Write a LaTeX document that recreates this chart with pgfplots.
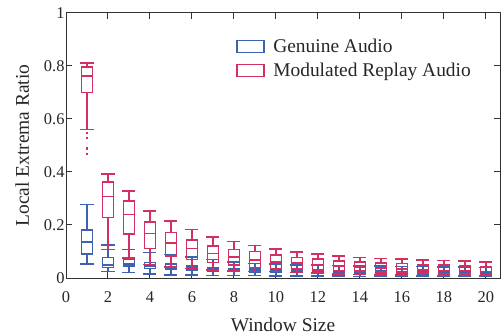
\documentclass[border=0pt]{standalone}
\usepackage{fontspec}
\setmainfont{Liberation Serif}
\usepackage{pgfplots}
\pgfplotsset{compat=1.18}
\usepgfplotslibrary{statistics}
\definecolor{bluec}{RGB}{62,98,178}
\definecolor{redc}{RGB}{210,48,96}
\definecolor{axc}{RGB}{50,50,50}
% #1 colour, #2 position, #3 lower whisker, #4 lower quartile, #5 median, #6 upper quartile, #7 upper whisker
\newcommand{\bx}[7]{\addplot[#1, line width=1.6bp, forget plot, boxplot/draw direction=y, boxplot prepared={draw position=#2, lower whisker=#3, lower quartile=#4, median=#5, upper quartile=#6, upper whisker=#7, box extend=0.52, whisker extend=0.62}] coordinates {};}
\begin{document}
\begin{tikzpicture}
\path[use as bounding box] (0,0) rectangle (501bp,335bp);
\begin{axis}[
  at={(66bp,57bp)}, anchor=south west,
  scale only axis, width=434bp, height=265bp,
  xmin=0, xmax=20.67, ymin=0, ymax=1,
  xtick={0,2,...,20}, ytick={0,0.2,0.4,0.6,0.8,1},
  yticklabels={0,0.2,0.4,0.6,0.8,1},
  tick align=inside, major tick length=6bp,
  axis line style={axc, line width=1bp},
  every tick/.style={axc, line width=1bp},
  /pgf/number format/assume math mode=true,
  ticklabel style={font=\fontsize{16.5}{19}\selectfont, text=black!85},
  xticklabel style={yshift=-10bp},
  yticklabel style={xshift=2bp},
  label style={font=\fontsize{19.5}{22}\selectfont, text=black!85},
  xlabel={Window Size}, ylabel={Local Extrema Ratio},
  xlabel style={yshift=-9bp},
  ylabel style={yshift=8bp},
  legend style={draw=none, fill=none, at={(0.392,0.91)}, anchor=north west,
    font=\fontsize{19.5}{22}\selectfont, text=black!85, row sep=5bp, inner sep=0pt},
  legend cell align=left,
]
\addlegendimage{legend image code/.code={\draw[bluec,line width=1.6bp] (0bp,-6bp) rectangle (27bp,6bp); \path (34bp,0);}}
\addlegendentry{Genuine Audio}
\addlegendimage{legend image code/.code={\draw[redc,line width=1.6bp] (0bp,-6bp) rectangle (27bp,6bp); \path (34bp,0);}}
\addlegendentry{Modulated Replay Audio}
% Genuine audio
\bx{bluec}{1}{0.053}{0.090}{0.135}{0.180}{0.278}
\bx{bluec}{2}{0.024}{0.039}{0.049}{0.078}{0.124}
\bx{bluec}{3}{0.020}{0.045}{0.053}{0.070}{0.108}
\bx{bluec}{4}{0.015}{0.036}{0.045}{0.058}{0.096}
\bx{bluec}{5}{0.011}{0.033}{0.042}{0.053}{0.089}
\bx{bluec}{6}{0.011}{0.030}{0.037}{0.045}{0.080}
\bx{bluec}{7}{0.010}{0.027}{0.033}{0.040}{0.070}
\bx{bluec}{8}{0.010}{0.025}{0.030}{0.036}{0.060}
\bx{bluec}{9}{0.009}{0.022}{0.027}{0.033}{0.055}
\bx{bluec}{10}{0.008}{0.021}{0.026}{0.031}{0.052}
\bx{bluec}{11}{0.008}{0.020}{0.025}{0.030}{0.050}
\bx{bluec}{12}{0.007}{0.019}{0.024}{0.029}{0.049}
\bx{bluec}{13}{0.007}{0.018}{0.023}{0.028}{0.047}
\bx{bluec}{14}{0.006}{0.017}{0.022}{0.027}{0.046}
\bx{bluec}{15}{0.006}{0.016}{0.021}{0.026}{0.045}
\bx{bluec}{16}{0.006}{0.015}{0.020}{0.025}{0.044}
\bx{bluec}{17}{0.005}{0.014}{0.019}{0.024}{0.043}
\bx{bluec}{18}{0.005}{0.013}{0.018}{0.023}{0.042}
\bx{bluec}{19}{0.005}{0.013}{0.017}{0.022}{0.041}
\bx{bluec}{20}{0.005}{0.012}{0.016}{0.021}{0.040}
% Modulated replay audio
\addplot[redc, line width=1.6bp, forget plot, mark=square*, mark size=0.6bp, mark options={redc, line width=0.3bp},
  boxplot/draw direction=y,
  boxplot prepared={draw position=1, lower whisker=0.56, lower quartile=0.70, median=0.763, upper quartile=0.797, upper whisker=0.812, box extend=0.52, whisker extend=0.62}]
  table[row sep=\\, y index=0] {0.548\\0.530\\0.490\\0.470\\};
\bx{redc}{2}{0.108}{0.228}{0.308}{0.362}{0.393}
\bx{redc}{3}{0.076}{0.165}{0.239}{0.291}{0.328}
\bx{redc}{4}{0.051}{0.112}{0.168}{0.212}{0.253}
\bx{redc}{5}{0.042}{0.083}{0.133}{0.172}{0.215}
\bx{redc}{6}{0.036}{0.070}{0.112}{0.143}{0.183}
\bx{redc}{7}{0.030}{0.058}{0.093}{0.120}{0.155}
\bx{redc}{8}{0.027}{0.049}{0.080}{0.108}{0.137}
\bx{redc}{9}{0.025}{0.040}{0.068}{0.100}{0.122}
\bx{redc}{10}{0.024}{0.036}{0.061}{0.086}{0.109}
\bx{redc}{11}{0.020}{0.034}{0.056}{0.078}{0.099}
\bx{redc}{12}{0.018}{0.030}{0.049}{0.071}{0.090}
\bx{redc}{13}{0.015}{0.028}{0.045}{0.065}{0.084}
\bx{redc}{14}{0.013}{0.026}{0.041}{0.061}{0.078}
\bx{redc}{15}{0.012}{0.022}{0.037}{0.056}{0.074}
\bx{redc}{16}{0.011}{0.021}{0.035}{0.054}{0.071}
\bx{redc}{17}{0.010}{0.019}{0.031}{0.050}{0.069}
\bx{redc}{18}{0.010}{0.016}{0.029}{0.048}{0.066}
\bx{redc}{19}{0.009}{0.015}{0.028}{0.045}{0.064}
\bx{redc}{20}{0.009}{0.013}{0.024}{0.041}{0.061}
\end{axis}
\end{tikzpicture}
\end{document}
